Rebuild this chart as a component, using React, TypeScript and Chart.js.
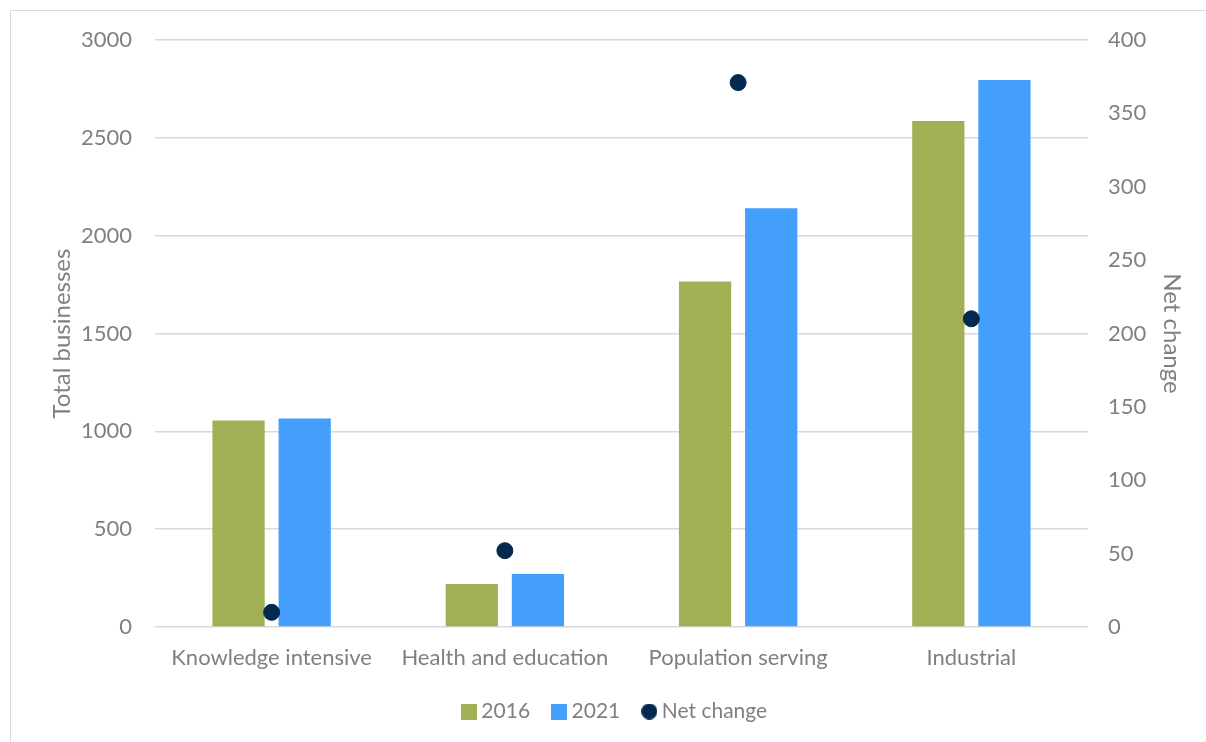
import React, { useEffect, useRef } from "react";
import { Chart, registerables } from "chart.js";

Chart.register(...registerables);

const categories = ["Knowledge intensive", "Health and education", "Population serving", "Industrial"];
const values2016 = [1055, 220, 1766, 2586];
const values2021 = [1065, 271, 2140, 2796];
const netChange = [10, 52, 371, 210];

const GREEN = "#A1AF55";
const BLUE = "#449EFC";
const NAVY = "#03294F";
const GRAY = "#808080";
const FONT = "Lato";

function makeSwatch(color: string, round: boolean): HTMLCanvasElement {
  const c = document.createElement("canvas");
  c.width = 16;
  c.height = 16;
  const ctx = c.getContext("2d");
  if (ctx) {
    ctx.fillStyle = color;
    if (round) {
      ctx.beginPath();
      ctx.arc(8, 8, 8, 0, Math.PI * 2);
      ctx.fill();
    } else {
      ctx.fillRect(0, 0, 16, 16);
    }
  }
  return c;
}

export default function App() {
  const ref = useRef<HTMLCanvasElement | null>(null);

  useEffect(() => {
    const canvas = ref.current;
    if (!canvas) return;

    const swatches: Record<string, HTMLCanvasElement> = {
      "2016": makeSwatch(GREEN, false),
      "2021": makeSwatch(BLUE, false),
      "Net change": makeSwatch(NAVY, true),
    };

    const chart = new Chart(canvas, {
      type: "bar",
      data: {
        labels: categories,
        datasets: [
          {
            type: "line",
            label: "Net change",
            data: netChange,
            yAxisID: "y1",
            showLine: false,
            pointRadius: 8,
            pointHoverRadius: 8,
            pointBackgroundColor: NAVY,
            pointBorderColor: NAVY,
            backgroundColor: NAVY,
            borderColor: NAVY,
            order: 0,
          } as any,
          {
            label: "2016",
            data: values2016,
            backgroundColor: GREEN,
            yAxisID: "y",
            categoryPercentage: 0.567,
            barPercentage: 0.79,
            order: 1,
          },
          {
            label: "2021",
            data: values2021,
            backgroundColor: BLUE,
            yAxisID: "y",
            categoryPercentage: 0.567,
            barPercentage: 0.79,
            order: 1,
          },
        ],
      },
      options: {
        responsive: false,
        animation: false,
        layout: { padding: { left: 48, right: 20, top: 40, bottom: 10 } },
        plugins: {
          tooltip: { enabled: false },
          legend: {
            position: "bottom",
            labels: {
              usePointStyle: true,
              pointStyleWidth: 4,
              boxHeight: 16,
              padding: 27,
              color: GRAY,
              font: { family: FONT, size: 21 },
              sort: (a: any, b: any) => {
                const order = ["2016", "2021", "Net change"];
                return order.indexOf(a.text) - order.indexOf(b.text);
              },
              generateLabels: (c: any) => {
                const items = Chart.defaults.plugins.legend.labels.generateLabels(c);
                return items.map((it: any) => ({
                  ...it,
                  pointStyle: swatches[it.text],
                  lineWidth: 0,
                }));
              },
            },
          },
        },
        scales: {
          x: {
            grid: { display: false },
            border: { display: false },
            ticks: { color: GRAY, font: { family: FONT, size: 22 }, padding: 10 },
            afterFit: (s: any) => {
              s.height = 47;
            },
          },
          y: {
            position: "left",
            min: 0,
            max: 3000,
            grid: { color: "#D9D9D9", lineWidth: 1.5, drawTicks: false },
            border: { display: false },
            ticks: {
              stepSize: 500,
              color: GRAY,
              font: { family: FONT, size: 22 },
              padding: 23,
              callback: (v: any) => String(v),
            },
            title: {
              display: true,
              text: "Total businesses",
              color: GRAY,
              font: { family: FONT, size: 24 },
              padding: { top: 0, bottom: 0 },
            },
            afterFit: (s: any) => {
              s.width = 107;
            },
          },
          y1: {
            position: "right",
            min: 0,
            max: 400,
            grid: { display: false, drawTicks: false },
            border: { display: false },
            ticks: {
              stepSize: 50,
              color: GRAY,
              font: { family: FONT, size: 22 },
              padding: 20,
              callback: (v: any) => String(v),
            },
            title: {
              display: true,
              text: "Net change",
              color: GRAY,
              font: { family: FONT, size: 24 },
              padding: { top: 0, bottom: 0 },
            },
            afterFit: (s: any) => {
              s.width = 98;
            },
          },
        },
      },
    });

    return () => {
      chart.destroy();
    };
  }, []);

  return (
    <div
      style={{
        position: "fixed",
        left: 0,
        top: 0,
        width: 1206,
        height: 742,
        overflow: "hidden",
        background: "#ffffff",
      }}
    >
      <div
        style={{
          position: "absolute",
          left: 10,
          top: 10,
          width: 1300,
          height: 800,
          border: "1px solid #D9D9D9",
          boxSizing: "border-box",
        }}
      />
      <canvas
        ref={ref}
        width={1206}
        height={742}
        style={{ position: "absolute", left: 0, top: 0, width: 1206, height: 742 }}
      />
    </div>
  );
}
